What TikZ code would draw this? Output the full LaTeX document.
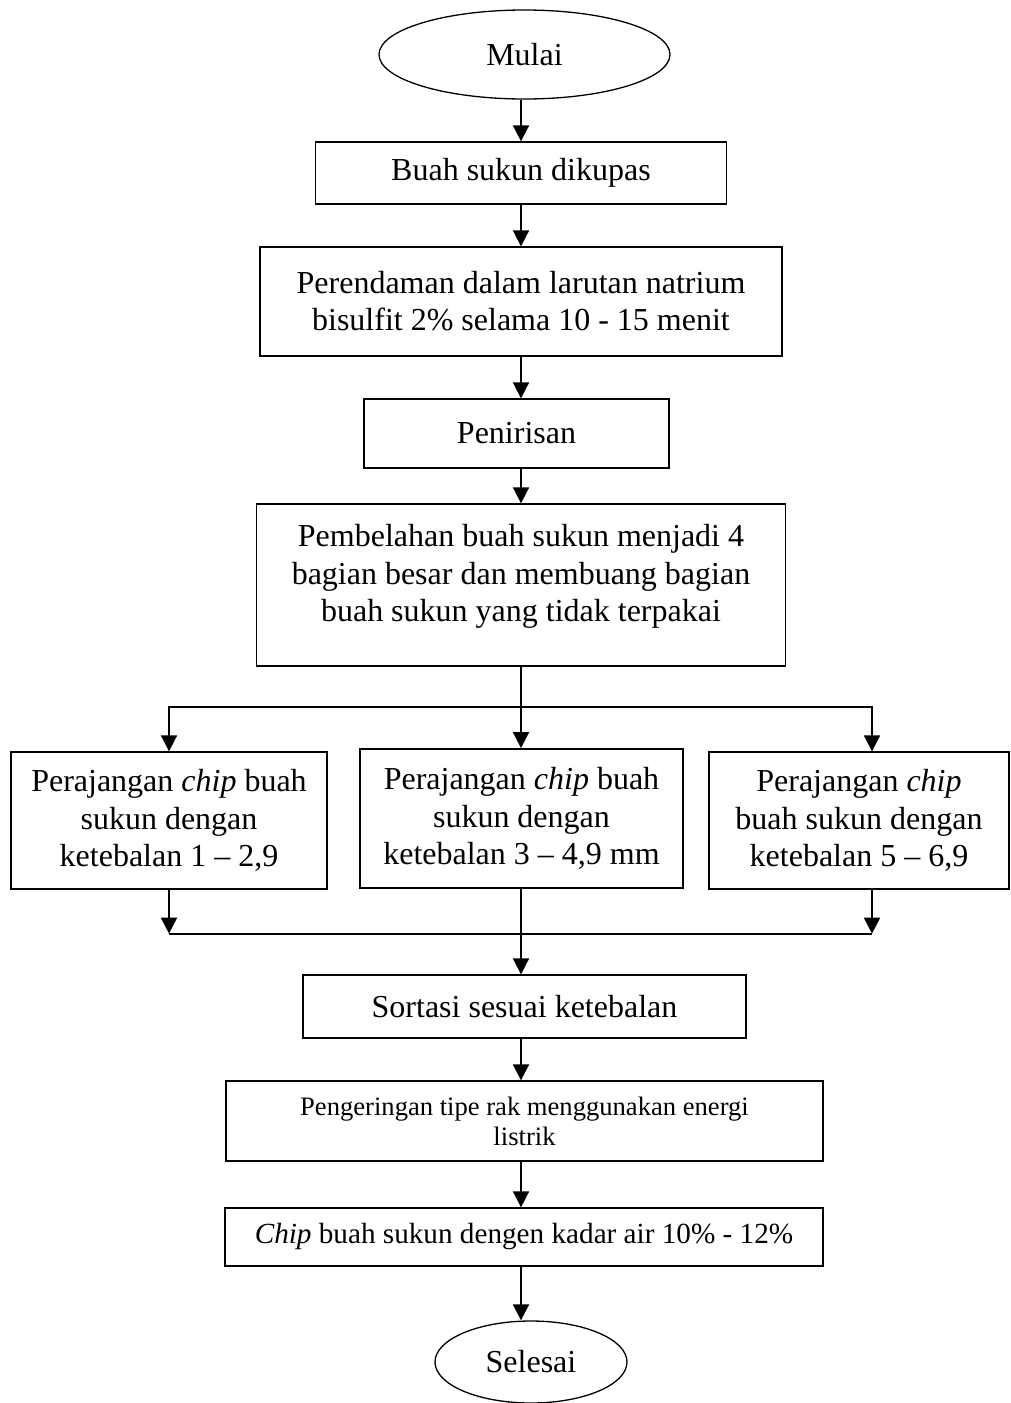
\documentclass[tikz,border=0pt]{standalone}
\usepackage{fontspec}
\setmainfont{Liberation Serif}
\usepackage{tikz}
\usetikzlibrary{shapes.geometric,arrows.meta,positioning}

\begin{document}
\begin{tikzpicture}[->,>={Triangle[length=8pt,width=8pt]},x=0.5pt,y=-0.5pt,line width=0.9pt,
	ovalnode/.style={ellipse,draw,line width=0.65pt,inner sep=0pt},
	boxnode/.style={rectangle,draw,line width=0.65pt,align=center,inner sep=0pt},
	teks/.style={font=\fontsize{16}{18.6}\selectfont}]
		\useasboundingbox (0,0) rectangle (1011,1403);
		\node [ovalnode,teks,minimum width=145.5pt,minimum height=44.5pt] (mulai) at (524.5,54.5) {Mulai};
		\node [boxnode,teks,minimum width=205.5pt,minimum height=31pt] (kupas) at (521,173) {Buah sukun dikupas};
		\node [boxnode,teks,minimum width=261pt,minimum height=54.5pt] (rendam) at (521,301.5) {Perendaman dalam larutan natrium\\bisulfit 2\% selama 10 - 15 menit};
		\node [boxnode,teks,minimum width=152.5pt,minimum height=34.5pt] (tiris) at (516.5,433.5) {Penirisan};
		\node [boxnode,teks,minimum width=264.5pt,minimum height=81pt] (belah) at (521,585) {Pembelahan buah sukun menjadi 4\\bagian besar dan membuang bagian\\buah sukun yang tidak terpakai\rule[-12pt]{0pt}{0pt}};
		\node [boxnode,teks,minimum width=158pt,minimum height=68.5pt] (rajang1) at (169,820.5) {Perajangan \textit{chip} buah\\sukun dengan\\ketebalan 1 -- 2,9};
		\node [boxnode,teks,line width=0.9pt,minimum width=161.5pt,minimum height=69.5pt] (rajang2) at (521.5,818.5) {Perajangan \textit{chip} buah\\sukun dengan\\ketebalan 3 -- 4,9 mm};
		\node [boxnode,teks,minimum width=150pt,minimum height=68.5pt] (rajang3) at (859,820.5) {Perajangan \textit{chip}\\buah sukun dengan\\ketebalan 5 -- 6,9};
		\node [boxnode,teks,minimum width=221.5pt,minimum height=31.5pt] (sortasi) at (524.5,1006.5) {Sortasi sesuai ketebalan};
		\node [boxnode,font=\fontsize{13.3}{15}\selectfont,minimum width=298.5pt,minimum height=40pt] (kering) at (524.5,1121) {Pengeringan tipe rak menggunakan energi\\listrik};
		\node [boxnode,font=\fontsize{14.6}{17}\selectfont,minimum width=299pt,minimum height=29pt] (chip) at (524,1237) {\textit{Chip} buah sukun dengen kadar air 10\% - 12\%};
		\node [ovalnode,teks,minimum width=96pt,minimum height=41pt] (selesai) at (531,1362) {Selesai};
		\draw (mulai.south -| kupas.north) -- (kupas.north);
		\draw (kupas) -- (rendam);
		\draw (rendam.south) -- (rendam.south |- tiris.north);
		\draw (tiris.south -| rendam.south) -- (belah.north);
		\draw (belah.south) -- ++(0,40) -| (rajang1.north);
		\draw (belah.south) -- (belah.south |- rajang2.north);
		\draw (belah.south) -- ++(0,40) -| ([xshift=6.5pt]rajang3.north);
		\draw (rajang1.south) -- ++(0,44);
		\draw ([xshift=6.5pt]rajang3.south) -- ++(0,44);
		\draw[-] ([yshift=-22pt]rajang1.south) -- ([xshift=6.5pt,yshift=-22pt]rajang3.south);
		\draw (rajang2.south -| belah.south) -- (sortasi.north -| belah.south);
		\draw (sortasi.south -| belah.south) -- (kering.north -| belah.south);
		\draw (kering.south -| belah.south) -- (chip.north -| belah.south);
		\draw (chip.south -| belah.south) -- (selesai.north -| belah.south);
	\end{tikzpicture}
\end{document}
